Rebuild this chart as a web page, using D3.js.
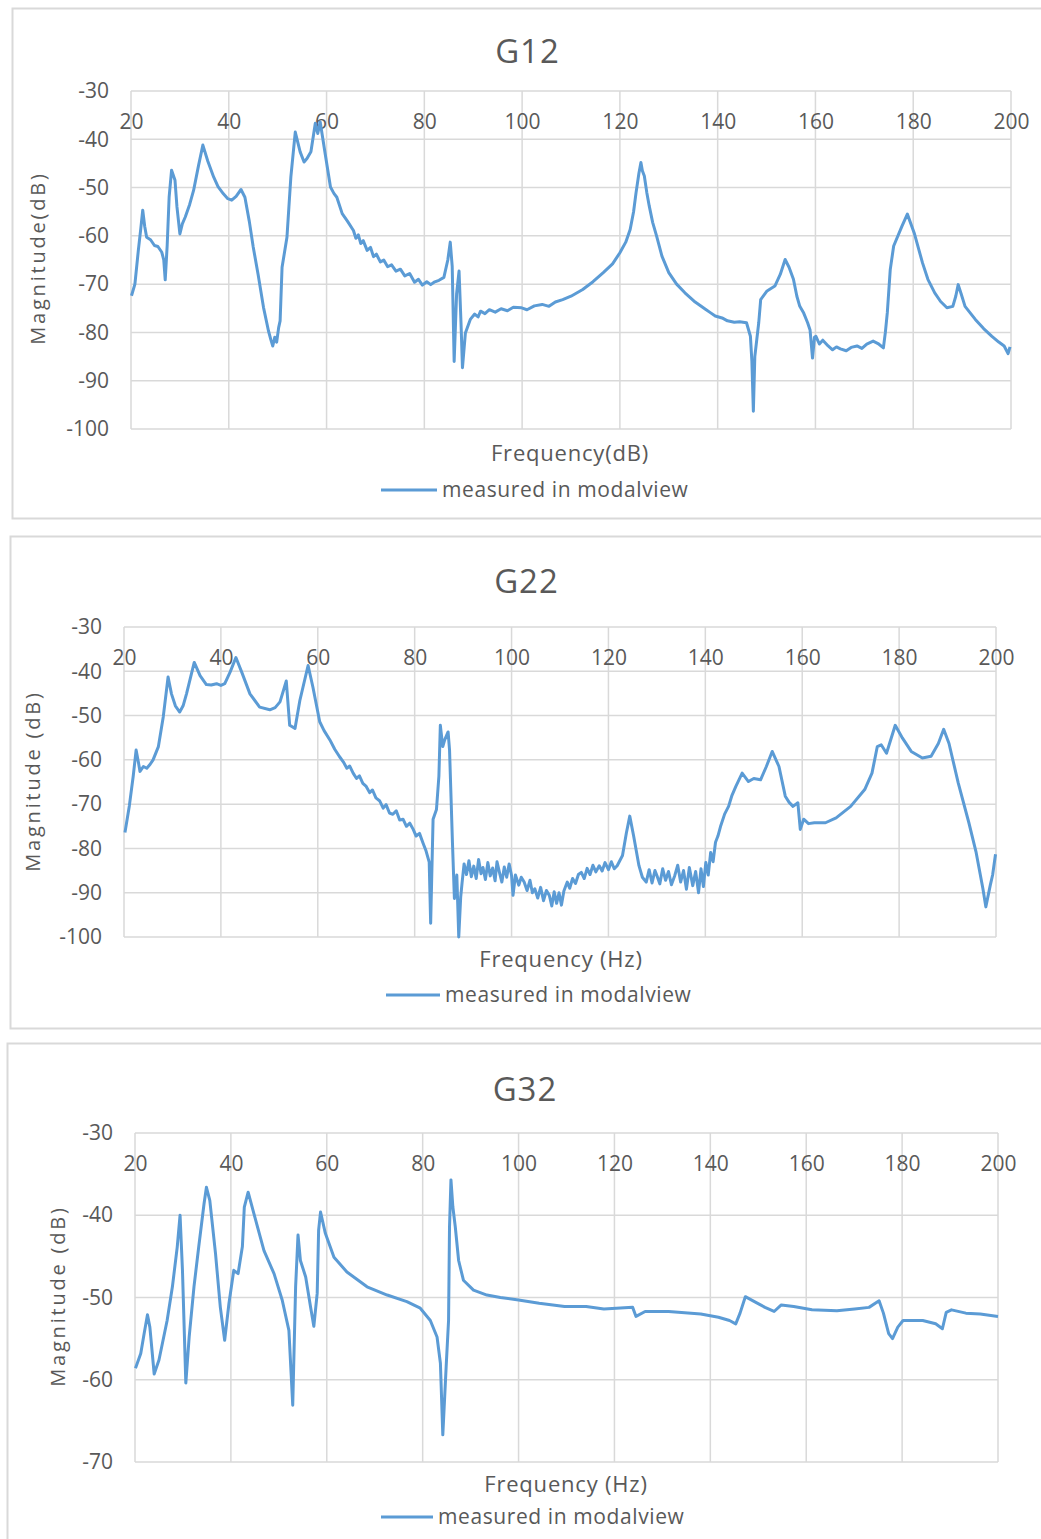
<!DOCTYPE html>
<html>
<head>
<meta charset="utf-8">
<style>
  body { margin: 0; background: #fff; }
  text { font-family: "Open Sans", "DejaVu Sans", sans-serif; fill: #595959; }
</style>
</head>
<body>
<div id="container"></div>
<script src="https://cdn.jsdelivr.net/npm/d3@7"></script>
<script>

// ---- data ----
const freqTicks = [20, 40, 60, 80, 100, 120, 140, 160, 180, 200];
const g12Ticks = [-30, -40, -50, -60, -70, -80, -90, -100];
const g22Ticks = [-30, -40, -50, -60, -70, -80, -90, -100];
const g32Ticks = [-30, -40, -50, -60, -70];
const legendLabel = "measured in modalview";

const g12Freq = [20.1,20.8,21.5,22.0,22.4,22.8,23.2,24.0,24.8,25.5,26.3,26.7,27.0,27.4,27.8,28.3,29.0,29.4,30.0,30.5,31.1,32.0,32.8,33.8,34.7,35.7,36.9,37.8,38.9,39.8,40.6,41.5,42.5,43.3,44.2,45.0,46.0,47.1,48.1,48.6,49.0,49.4,49.8,50.2,50.5,50.9,51.9,52.3,52.7,53.6,54.6,55.4,56.0,56.8,57.7,58.2,58.7,59.7,60.8,61.5,62.1,63.2,64.3,
  65.5,66.0,66.5,67.0,67.5,68.3,69.0,69.6,70.2,71.0,71.7,72.5,73.3,74.2,75.1,76.0,77.0,78.0,78.8,79.6,80.5,81.3,82.0,83.0,84.0,84.8,85.3,85.7,86.1,86.6,87.1,87.5,87.8,88.4,89.4,
  90.3,91.0,91.5,92.4,93.3,94.5,95.7,97.0,98.2,99.9,101.0,102.5,104.1,105.5,106.8,108.3,110.0,112.4,114.5,116.6,118.5,120.0,121.2,122.1,122.8,123.3,123.9,124.3,124.6,125.0,125.5,126.0,126.7,127.5,128.6,130.0,131.6,133.3,135.4,137.5,
  138.5,139.5,140.9,142.0,143.4,144.5,145.9,146.7,147.0,147.3,147.6,148.0,148.4,148.8,150.1,151.7,152.8,153.8,154.6,155.5,156.2,156.8,157.6,158.4,158.9,159.4,159.8,
  160.1,160.8,161.5,162.6,163.5,164.3,165.1,166.3,167.3,168.5,169.5,170.5,171.8,172.8,173.9,174.3,174.7,175.3,176.0,177.7,178.8,180.2,181.9,183.0,184.4,185.6,186.9,188.1,188.7,189.2,189.8,190.6,192.7,194.4,196.1,197.5,198.6,199.4,199.8];
const g12Mag = [-72.4,-70.0,-63.0,-58.5,-54.7,-58.0,-60.3,-60.8,-62.0,-62.2,-63.4,-65.0,-69.1,-62.0,-52.0,-46.4,-48.5,-54.0,-59.6,-57.5,-56.1,-53.5,-50.6,-45.5,-41.2,-44.5,-47.8,-49.8,-51.3,-52.3,-52.6,-51.8,-50.4,-52.0,-57.0,-62.3,-68.0,-74.8,-79.6,-81.5,-82.8,-81.0,-82.0,-79.0,-77.6,-66.5,-60.3,-54.0,-47.8,-38.5,-42.6,-44.7,-44.0,-42.6,-36.7,-38.8,-36.4,-42.9,-49.9,-51.2,-52.0,-55.4,-57.0,
  -58.9,-60.5,-59.8,-61.6,-61.0,-63.0,-62.4,-64.3,-63.8,-65.4,-65.0,-66.4,-66.0,-67.3,-66.9,-68.3,-67.8,-69.6,-69.0,-70.2,-69.5,-70.1,-69.6,-69.2,-68.6,-65.0,-61.3,-66.3,-86.0,-72.0,-67.3,-78.0,-87.3,-80.1,-77.3,
  -76.2,-76.8,-75.6,-76.1,-75.3,-75.8,-75.1,-75.5,-74.8,-74.9,-75.3,-74.5,-74.2,-74.6,-73.7,-73.2,-72.5,-71.1,-69.5,-67.6,-65.8,-63.5,-61.3,-58.7,-55.0,-51.1,-47.0,-44.8,-46.5,-47.6,-51.0,-53.8,-57.2,-60.0,-64.2,-67.6,-70.0,-71.8,-73.7,-75.2,
  -75.9,-76.6,-77.0,-77.6,-77.9,-77.8,-78.0,-80.8,-86.0,-96.3,-85.0,-81.5,-78.0,-73.2,-71.4,-70.4,-68.0,-64.9,-66.5,-69.0,-72.5,-74.6,-76.0,-78.0,-79.5,-85.3,-81.0,
  -80.8,-82.4,-81.6,-82.8,-83.6,-83.0,-83.4,-83.8,-83.1,-82.8,-83.3,-82.4,-81.8,-82.3,-83.2,-80.0,-75.9,-67.0,-62.1,-58.0,-55.5,-59.4,-65.6,-69.0,-71.8,-73.6,-74.9,-74.6,-72.5,-70.1,-72.0,-74.6,-77.3,-79.2,-80.8,-82.0,-82.8,-84.4,-83.0];

const g22Freq = [20.2,21.1,21.9,22.5,23.0,23.3,24.0,24.7,25.4,26.0,27.1,28.1,29.1,29.8,30.6,31.5,32.2,32.9,34.5,35.7,37.0,38.0,39.1,40.0,40.8,41.9,43.1,44.3,46.0,48.0,50.1,51.2,52.2,53.5,54.2,55.3,56.3,58.0,59.0,60.4,61.3,62.5,63.5,64.5,65.3,66.0,66.6,67.3,68.0,68.6,69.3,70.0,70.7,71.3,72.0,72.8,73.5,74.1,74.8,75.5,76.2,76.9,77.6,78.3,79.0,79.7,80.3,81.0,81.7,82.3,83.0,83.3,83.8,84.5,85.0,85.3,85.8,86.2,86.9,87.2,87.8,88.2,88.7,89.1,89.5,89.8,
  90.2,90.7,91.2,91.7,92.2,92.7,93.2,93.7,94.1,94.6,95.1,95.6,96.1,96.6,97.0,97.5,98.0,98.5,99.0,99.5,100.0,100.3,100.8,101.5,102.0,102.6,103.2,103.8,104.3,104.8,105.4,106.0,106.6,107.2,107.8,108.3,108.8,109.3,109.8,110.3,110.8,111.5,112.0,112.6,113.2,113.8,114.4,115.0,115.6,116.2,116.8,117.4,118.1,118.7,119.3,120.0,120.6,121.2,121.8,122.9,123.7,124.4,125.2,126.3,127.0,127.8,128.4,129.0,129.6,130.0,130.6,131.2,131.8,132.4,133.0,133.7,134.3,134.9,135.5,136.1,136.7,137.4,138.0,138.6,139.1,139.6,140.1,140.6,141.1,141.6,142.1,142.6,143.2,144.0,144.8,145.5,146.3,147.6,148.9,150.0,151.4,152.6,153.8,155.2,156.5,157.3,158.1,159.1,159.6,160.3,161.3,162.5,164.8,167.0,170.0,172.9,174.4,175.5,176.3,177.4,179.2,180.7,182.5,184.8,186.6,188.1,189.2,190.3,192.2,194.4,195.9,197.3,197.9,198.8,199.3,199.9];
const g22Mag = [-76.4,-70.4,-63.7,-57.8,-60.7,-62.6,-61.5,-61.9,-61.0,-60.0,-57.0,-50.3,-41.3,-45.1,-47.8,-49.2,-47.8,-45.1,-38.0,-41.0,-43.0,-43.1,-42.8,-43.2,-42.8,-40.2,-36.9,-40.2,-45.1,-48.1,-48.7,-48.2,-46.9,-42.2,-52.2,-52.9,-46.6,-38.7,-43.6,-51.4,-53.4,-55.5,-57.6,-59.3,-60.5,-61.9,-61.4,-63.0,-64.2,-63.6,-65.3,-66.0,-67.4,-66.8,-68.6,-69.3,-70.9,-70.1,-72.0,-72.3,-71.5,-73.6,-73.4,-75.0,-74.3,-75.7,-77.2,-76.6,-78.7,-80.4,-83.1,-96.9,-73.4,-71.2,-63.7,-52.2,-57.0,-55.5,-53.7,-57.8,-78.7,-91.3,-86.0,-100.0,-91.0,-87.6,
  -83.5,-85.9,-82.8,-86.4,-84.0,-86.8,-82.5,-85.7,-84.3,-87.0,-83.2,-86.2,-84.4,-87.3,-83.0,-85.4,-87.6,-84.2,-86.5,-83.5,-86.1,-90.6,-86.0,-88.3,-86.5,-87.6,-89.5,-87.2,-90.0,-89.1,-91.2,-88.8,-91.8,-89.5,-90.6,-93.0,-89.8,-92.4,-90.0,-92.8,-89.6,-87.6,-89.0,-86.8,-87.9,-85.9,-85.4,-86.8,-84.5,-85.9,-83.8,-85.3,-83.9,-85.1,-83.2,-84.8,-83.0,-84.6,-83.9,-81.6,-76.5,-72.7,-77.2,-83.9,-86.5,-87.6,-84.8,-87.8,-85.0,-86.1,-88.0,-84.6,-87.2,-85.2,-88.2,-86.1,-83.8,-87.6,-85.0,-89.2,-84.3,-88.4,-85.2,-90.0,-84.6,-88.6,-83.2,-86.0,-80.9,-83.0,-78.6,-77.2,-74.8,-72.2,-70.5,-68.0,-66.0,-63.0,-64.9,-64.2,-64.5,-61.5,-58.1,-61.5,-68.2,-69.6,-70.5,-69.7,-75.7,-73.4,-74.4,-74.2,-74.2,-73.1,-70.5,-66.7,-63.0,-57.0,-56.6,-58.5,-52.2,-55.1,-58.1,-59.6,-59.2,-56.3,-53.1,-56.3,-65.2,-74.2,-80.9,-89.1,-93.2,-88.4,-86.0,-81.3];

const g32Freq = [20.1,21.2,21.9,22.6,23.1,24.0,25.0,26.7,27.8,28.8,29.4,29.9,30.6,31.3,32.3,33.3,34.4,34.9,35.6,36.8,37.8,38.7,39.6,40.6,41.5,42.4,42.8,43.6,44.8,46.9,49.0,50.7,52.1,52.9,53.5,54.0,54.5,55.6,56.6,57.3,58.0,58.3,58.7,59.7,61.5,64.2,68.4,72.6,76.7,79.5,81.6,83.0,83.7,84.2,84.9,85.4,85.6,85.9,86.3,86.8,87.5,88.5,90.6,93.4,96.2,
  100.0,104.3,109.6,114.1,117.8,123.8,124.5,126.4,131.3,138.0,141.7,144.0,145.3,146.2,147.3,149.2,151.4,153.3,154.8,157.4,161.2,166.4,170.1,173.1,175.2,176.1,177.2,178.0,179.1,180.2,184.3,187.0,188.4,189.2,190.3,193.3,196.3,200.0];
const g32Mag = [-58.6,-56.8,-54.4,-52.1,-53.6,-59.3,-57.6,-52.8,-48.7,-43.9,-40.0,-46.7,-60.4,-54.8,-48.7,-43.8,-38.6,-36.6,-38.2,-44.7,-51.2,-55.2,-50.7,-46.7,-47.1,-43.8,-39.0,-37.2,-39.8,-44.3,-47.1,-50.3,-54.0,-63.1,-48.7,-42.4,-45.5,-47.5,-51.1,-53.5,-49.5,-41.8,-39.6,-42.2,-45.1,-46.9,-48.7,-49.7,-50.5,-51.3,-52.8,-54.8,-58.0,-66.7,-58.4,-52.8,-41.4,-35.7,-39.0,-41.4,-45.5,-47.9,-49.1,-49.7,-50.0,
  -50.3,-50.7,-51.1,-51.1,-51.4,-51.2,-52.3,-51.7,-51.7,-52.0,-52.4,-52.8,-53.2,-51.9,-49.9,-50.5,-51.2,-51.7,-50.9,-51.1,-51.5,-51.6,-51.4,-51.2,-50.4,-51.9,-54.4,-55.0,-53.6,-52.8,-52.8,-53.2,-53.8,-51.8,-51.5,-51.9,-52.0,-52.3];

// ---- layout ----
const W = 1041, H = 1539;
const lineColor = "#5B9BD5";
const gridColor = "#d9d9d9";

const panels = [
  { title: "G12", freq: g12Freq, mag: g12Mag, yTicks: g12Ticks, yDomain: [-100, -30],
    xTitle: "Frequency(dB)", yTitle: "Magnitude(dB)",
    box: [12, 8, 1040, 510], plot: [131, 1011, 91, 429],
    titleY: 63, xTitleX: 570, xTitleY: 461, yTitleX: 38, yTitleY: 258,
    legX: 381, legLen: 56, legY: 490 },
  { title: "G22", freq: g22Freq, mag: g22Mag, yTicks: g22Ticks, yDomain: [-100, -30],
    xTitle: "Frequency (Hz)", yTitle: "Magnitude (dB)",
    box: [10, 536, 1040, 492], plot: [124, 996, 627, 937],
    titleY: 593, xTitleX: 561, xTitleY: 967, yTitleX: 33, yTitleY: 781,
    legX: 386, legLen: 54, legY: 995 },
  { title: "G32", freq: g32Freq, mag: g32Mag, yTicks: g32Ticks, yDomain: [-70, -30],
    xTitle: "Frequency (Hz)", yTitle: "Magnitude (dB)",
    box: [7, 1043, 1040, 520], plot: [135, 998, 1133, 1462],
    titleY: 1101, xTitleX: 566, xTitleY: 1492, yTitleX: 58, yTitleY: 1296,
    legX: 381, legLen: 52, legY: 1517 }
];

const svg = d3.create("svg")
    .attr("width", W)
    .attr("height", H);

svg.append("rect")
    .attr("width", W).attr("height", H)
    .attr("fill", "#fff");

panels.forEach(p => {
  const [x0, x1, yT, yB] = p.plot;
  const g = svg.append("g");

  // panel frame
  g.append("rect")
      .attr("x", p.box[0] + 0.5).attr("y", p.box[1] + 0.5)
      .attr("width", p.box[2]).attr("height", p.box[3])
      .attr("fill", "#fff")
      .attr("stroke", gridColor)
      .attr("stroke-width", 2);

  const x = d3.scaleLinear().domain([20, 200]).range([x0, x1]);
  const y = d3.scaleLinear().domain(p.yDomain).range([yB, yT]);

  // grid
  g.append("g")
      .selectAll("line")
      .data(p.yTicks)
      .join("line")
      .attr("x1", x0).attr("x2", x1)
      .attr("y1", d => y(d)).attr("y2", d => y(d))
      .attr("stroke", gridColor).attr("stroke-width", 1.5);
  g.append("g")
      .selectAll("line")
      .data(freqTicks)
      .join("line")
      .attr("x1", d => x(d)).attr("x2", d => x(d))
      .attr("y1", yT).attr("y2", yB)
      .attr("stroke", gridColor).attr("stroke-width", 1.5);

  // x tick labels sit just inside the top edge
  const xAxis = g.append("g")
      .attr("transform", `translate(0,${yT})`)
      .call(d3.axisBottom(x).tickValues(freqTicks).tickSize(0).tickPadding(23)
        .tickFormat(d => String(d)));
  xAxis.select(".domain").remove();
  xAxis.selectAll("text")
      .attr("font-size", 21)
      .attr("font-family", null)
      .attr("fill", "#595959");

  // plain hyphen minus, like the original
  const yAxis = g.append("g")
      .attr("transform", `translate(${x0},0)`)
      .call(d3.axisLeft(y).tickValues(p.yTicks).tickSize(0).tickPadding(22)
        .tickFormat(d => String(d)));
  yAxis.select(".domain").remove();
  yAxis.selectAll("text")
      .attr("font-size", 21)
      .attr("font-family", null)
      .attr("fill", "#595959");

  // the measured curve
  const pts = p.freq.map((f, i) => [f, p.mag[i]]);
  g.append("path")
      .attr("fill", "none")
      .attr("stroke", lineColor)
      .attr("stroke-width", 3)
      .attr("stroke-linejoin", "round")
      .attr("d", d3.line().x(d => x(d[0])).y(d => y(d[1]))(pts));

  // titles
  g.append("text")
      .attr("x", (p.box[0] + 1041) / 2 + 1).attr("y", p.titleY)
      .attr("text-anchor", "middle")
      .attr("font-size", 33)
      .attr("letter-spacing", 1)
      .text(p.title);

  g.append("text")
      .attr("x", p.xTitleX).attr("y", p.xTitleY)
      .attr("text-anchor", "middle")
      .attr("font-size", 22)
      .attr("letter-spacing", 0.8)
      .text(p.xTitle);

  g.append("text")
      .attr("transform", `translate(${p.yTitleX},${p.yTitleY}) rotate(-90)`)
      .attr("text-anchor", "middle")
      .attr("dy", "0.35em")
      .attr("font-size", 20)
      .attr("letter-spacing", 2.8)
      .text(p.yTitle);

  // legend
  g.append("line")
      .attr("x1", p.legX).attr("x2", p.legX + p.legLen)
      .attr("y1", p.legY).attr("y2", p.legY)
      .attr("stroke", lineColor).attr("stroke-width", 3);
  g.append("text")
      .attr("x", p.legX + p.legLen + 5).attr("y", p.legY)
      .attr("dy", "0.35em")
      .attr("font-size", 21)
      .attr("letter-spacing", 0.6)
      .text(legendLabel);
});

container.append(svg.node());
</script>
</body>
</html>
